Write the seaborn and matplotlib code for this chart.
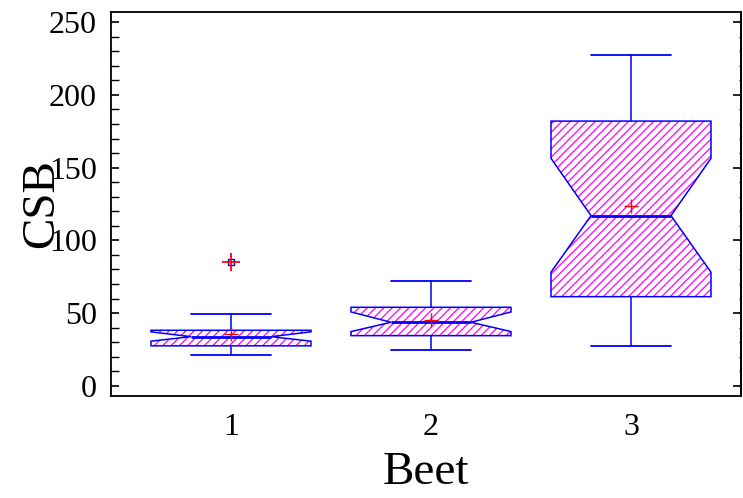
import matplotlib
matplotlib.use("Agg")
import matplotlib.pyplot as plt
import seaborn as sns
from matplotlib.patches import PathPatch
from matplotlib.ticker import MultipleLocator

sns.set_theme(style="white")
plt.rcParams['font.family'] = ['Liberation Serif', 'DejaVu Serif']
plt.rcParams['hatch.linewidth'] = 0.9
plt.rcParams['text.color'] = 'black'
plt.rcParams['axes.labelcolor'] = 'black'
plt.rcParams['xtick.color'] = 'black'
plt.rcParams['ytick.color'] = 'black'

# values
groups = ["1", "2", "3"]
q1 = [27.5, 34.5, 61.3]
med = [33.8, 43.7, 117.0]
q3 = [38.2, 54.0, 182.0]
ci_lo = [30.7, 37.3, 78.1]
ci_hi = [37.1, 50.8, 156.4]
whis_lo = [21.3, 24.3, 27.5]
whis_hi = [49.7, 72.3, 227.6]
means = [35.7, 45.3, 123.6]
fliers = [[85.2], [], []]

stats = []
for i in range(len(groups)):
    stats.append(dict(label=groups[i], q1=q1[i], med=med[i], q3=q3[i],
                      cilo=ci_lo[i], cihi=ci_hi[i],
                      whislo=whis_lo[i], whishi=whis_hi[i], fliers=fliers[i]))

fig = plt.figure(figsize=(7.43, 4.98), dpi=100)
ax = fig.add_axes([0.1494, 0.2048, 0.8479, 0.7711])

pos = [1, 2, 3]
bp = ax.bxp(stats, positions=pos, widths=0.8, shownotches=True, patch_artist=True,
            showfliers=True, showmeans=False,
            whiskerprops=dict(color="blue", lw=1.1),
            capprops=dict(color="blue", lw=1.3),
            medianprops=dict(color="blue", lw=2),
            flierprops=dict(marker="s", markersize=4, markerfacecolor="none",
                            markeredgecolor="blue", markeredgewidth=1))

# hatch in magenta, outline in blue
for box in bp["boxes"]:
    box.set_facecolor("white")
    box.set_edgecolor("magenta")
    box.set_hatch("////")
    box.set_linewidth(0)
    ax.add_patch(PathPatch(box.get_path(), fill=False, edgecolor="blue", lw=1.1, zorder=2.5))

# mean and outlier markers
sns.scatterplot(x=pos, y=means, marker="+", color="red", s=110, linewidth=1, ax=ax, zorder=5)
fx = [p for p, f in zip(pos, fliers) for _ in f]
fy = [v for f in fliers for v in f]
sns.scatterplot(x=fx, y=fy, marker="+", color="red", s=150, linewidth=1.3, ax=ax, zorder=5)

ax.set_xlim(0.4, 3.55)
ax.set_ylim(-7, 257)
ax.set_xticks(pos)
ax.set_xticklabels(groups)
ax.yaxis.set_major_locator(MultipleLocator(50))
ax.yaxis.set_minor_locator(MultipleLocator(10))
ax.tick_params(axis="y", which="major", direction="in", length=6, width=1.2,
               labelsize=23, left=True, right=True, pad=10)
ax.tick_params(axis="y", which="minor", direction="in", length=6, width=1,
               left=True, right=False)
ax.tick_params(axis="x", length=0, labelsize=23, pad=12)

# tiny ticks on the right side
ax2 = ax.secondary_yaxis("right")
ax2.yaxis.set_major_locator(MultipleLocator(10))
ax2.tick_params(direction="in", length=1.5, width=1, labelright=False)

for s in ax.spines.values():
    s.set_color("black")
    s.set_linewidth(1.3)
ax2.spines["right"].set_linewidth(1.3)

ax.set_xlabel("Beet", fontsize=34, labelpad=7)
ax.set_ylabel("CSB", fontsize=34, labelpad=-10)
ax.grid(False)

fig.savefig("out.png", dpi=100)
